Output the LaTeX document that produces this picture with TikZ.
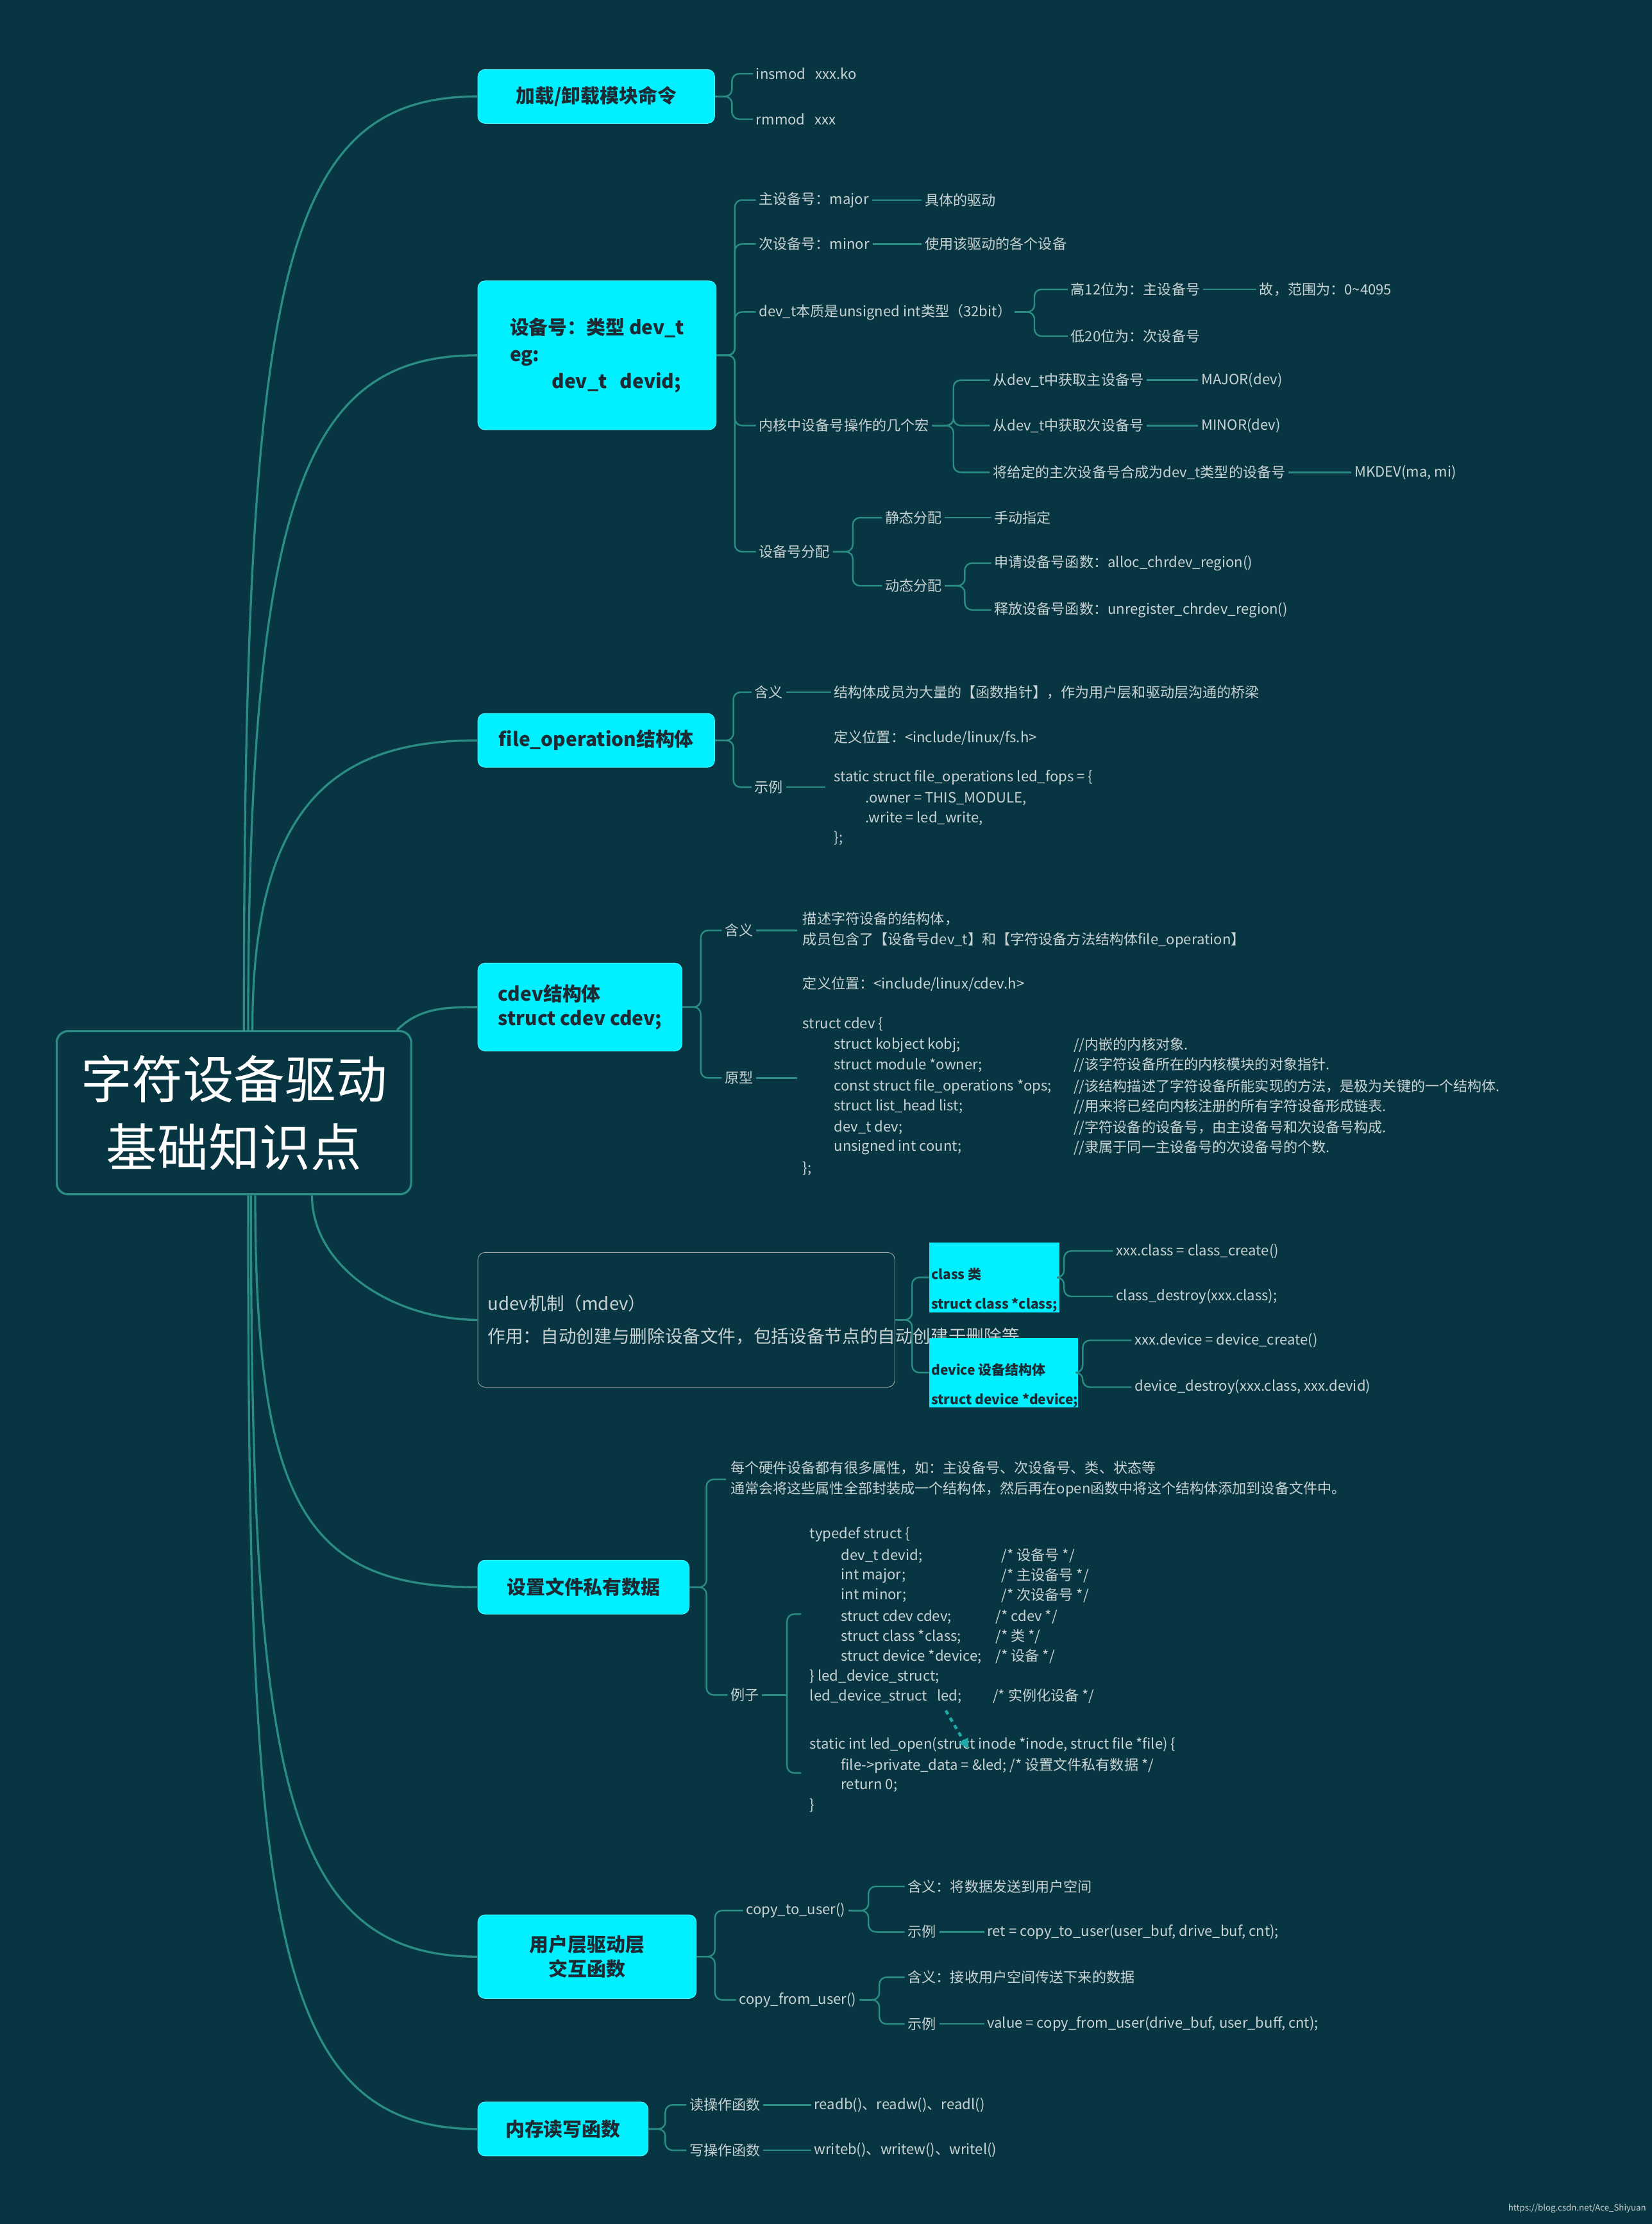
\documentclass[tikz,border=0pt]{standalone}
\usepackage{fontspec}
\setmainfont{Noto Sans CJK SC}
\usetikzlibrary{arrows.meta}
\definecolor{bgc}{HTML}{073642}
\definecolor{linec}{HTML}{2A8C84}
\definecolor{boxc}{HTML}{00F0FF}
\definecolor{txtc}{HTML}{C8D2D2}
\definecolor{darkc}{HTML}{1B2A33}
\tikzset{
  txt/.style={anchor=west, inner sep=2pt, text=txtc, font=\fontsize{10}{12}\selectfont},
  mainbox/.style={fill=boxc, draw=boxc!70!white, rounded corners=5pt, text=darkc, font=\fontsize{13.5}{17}\selectfont\bfseries, inner sep=0pt},
  smallbox/.style={fill=boxc, anchor=north west, text=darkc, font=\fontsize{9.5}{12}\selectfont\bfseries, inner sep=0pt, align=left},
  conn/.style={draw=linec, line width=1.1pt},
  branch/.style={draw=linec, line width=1.5pt}
}
\newcommand\fork[3]{\draw[conn, rounded corners=5pt] (#1.east) -- ++(#3,0) |- (#2.west);}
\newcommand\link[2]{\draw[conn] (#1.east) -- (#2.west);}
\begin{document}
\begin{tikzpicture}[x=1pt, y=-1pt]
  \fill[bgc] (0,0) rectangle (1165,1568);
  \useasboundingbox (0,0) rectangle (1165,1568);
  % root
  \node[draw=linec, line width=1.5pt, fill=bgc, rounded corners=8pt, minimum width=250pt, minimum height=115pt, text=white, align=center, font=\fontsize{36}{48}\selectfont] (root) at (165,784.5) {字符设备驱动\\基础知识点};
  % main topics
  \node[mainbox, minimum width=167pt, minimum height=38pt] (load) at (420.5,68) {加载/卸载模块命令};
  \node[mainbox, minimum width=168pt, minimum height=105pt, align=left, font=\fontsize{13.5}{19}\selectfont\bfseries] (devno) at (421,250.5) {设备号：类型 dev\_t\\eg:\\\hspace{2.2em}dev\_t\ \ \ devid;};
  \node[mainbox, minimum width=167pt, minimum height=38pt] (fops) at (420.5,522) {file\_operation结构体};
  \node[mainbox, minimum width=144pt, minimum height=62pt, align=left] (cdev) at (409,710) {cdev结构体\\struct cdev cdev;};
  \node[draw=txtc!80!black, fill=bgc, rounded corners=5pt, minimum width=294pt, minimum height=95pt, text width=280pt, align=left, text=txtc, font=\fontsize{12.5}{17}\selectfont] (udev) at (484,930.5) {udev机制（mdev）\\[6pt]作用：自动创建与删除设备文件，包括设备节点的自动创建于删除等};
  \node[mainbox, minimum width=149pt, minimum height=38pt] (priv) at (411.5,1119) {设置文件私有数据};
  \node[mainbox, minimum width=154pt, minimum height=59pt, align=center] (user) at (414,1379.5) {用户层驱动层\\交互函数};
  \node[mainbox, minimum width=120pt, minimum height=38pt] (mem) at (397,1501) {内存读写函数};
  % branches from root
  \draw[branch] ([xshift=7pt]root.north) .. controls +(0,-527) and +(-140,0) .. (load.west);
  \draw[branch] ([xshift=10pt]root.north) .. controls +(0,-380) and +(-120,0) .. (devno.west);
  \draw[branch] ([xshift=13pt]root.north) .. controls +(0,-160) and +(-100,0) .. (fops.west);
  \draw[branch] ([xshift=115pt]root.north) .. controls +(15,-15) and +(-25,0) .. (cdev.west);
  \draw[branch] ([xshift=55pt]root.south) .. controls +(0,50) and +(-60,0) .. (udev.west);
  \draw[branch] ([xshift=15pt]root.south) .. controls +(0,220) and +(-120,0) .. (priv.west);
  \draw[branch] ([xshift=12pt]root.south) .. controls +(0,400) and +(-140,0) .. (user.west);
  \draw[branch] ([xshift=10pt]root.south) .. controls +(0,500) and +(-150,0) .. (mem.west);
  % load / unload
  \node[txt] (ins) at (531,52) {insmod\ \ \ xxx.ko};
  \node[txt] (rm) at (531,84) {rmmod\ \ \ xxx};
  \fork{load}{ins}{12} \fork{load}{rm}{12}
  % device number
  \node[txt] (major) at (533,141) {主设备号：major};
  \node[txt] (majorv) at (650,141) {具体的驱动};
  \node[txt] (minor) at (533,172) {次设备号：minor};
  \node[txt] (minorv) at (650,172) {使用该驱动的各个设备};
  \node[txt] (devt) at (533,220) {dev\_t本质是unsigned int类型（32bit）};
  \node[txt] (hi) at (753,204) {高12位为：主设备号};
  \node[txt] (hiv) at (886,204) {故，范围为：0\textasciitilde4095};
  \node[txt] (lo) at (753,237) {低20位为：次设备号};
  \node[txt] (macro) at (533,300) {内核中设备号操作的几个宏};
  \node[txt] (getma) at (698,268) {从dev\_t中获取主设备号};
  \node[txt] (getmav) at (845,268) {MAJOR(dev)};
  \node[txt] (getmi) at (698,300) {从dev\_t中获取次设备号};
  \node[txt] (getmiv) at (845,300) {MINOR(dev)};
  \node[txt] (mk) at (698,333) {将给定的主次设备号合成为dev\_t类型的设备号};
  \node[txt] (mkv) at (953,333) {MKDEV(ma, mi)};
  \node[txt] (alloc) at (533,389) {设备号分配};
  \node[txt] (stat) at (622,365) {静态分配};
  \node[txt] (statv) at (699,365) {手动指定};
  \node[txt] (dyn) at (622,413) {动态分配};
  \node[txt] (req) at (699,397) {申请设备号函数：alloc\_chrdev\_region()};
  \node[txt] (rel) at (699,430) {释放设备号函数：unregister\_chrdev\_region()};
  \foreach \c in {major,minor,devt,macro,alloc} {\fork{devno}{\c}{13}}
  \link{major}{majorv} \link{minor}{minorv}
  \fork{devt}{hi}{14} \fork{devt}{lo}{14} \link{hi}{hiv}
  \foreach \c in {getma,getmi,mk} {\fork{macro}{\c}{15}}
  \link{getma}{getmav} \link{getmi}{getmiv} \link{mk}{mkv}
  \fork{alloc}{stat}{14} \fork{alloc}{dyn}{14} \link{stat}{statv}
  \fork{dyn}{req}{14} \fork{dyn}{rel}{14}
  % file_operation
  \node[txt] (fmean) at (530,488) {含义};
  \node[txt] (fmeanv) at (586,488) {结构体成员为大量的【函数指针】，作为用户层和驱动层沟通的桥梁};
  \node[txt] (fex) at (530,555) {示例};
  \coordinate (fexv) at (582,555);
  \node[txt] (f1) at (586,520) {定义位置：<include/linux/fs.h>};
  \node[txt] (f2) at (586,548) {static struct file\_operations led\_fops = \{};
  \node[txt] (f3) at (608,563) {.owner = THIS\_MODULE,};
  \node[txt] (f4) at (608,577) {.write = led\_write,};
  \node[txt] (f5) at (586,591) {\};};
  \fork{fops}{fmean}{13} \fork{fops}{fex}{13}
  \link{fmean}{fmeanv} \draw[conn] (fex.east) -- (fexv);
  % cdev
  \node[txt] (cmean) at (509,656) {含义};
  \coordinate (cmeanv) at (562,656);
  \node[txt] (c1) at (564,648) {描述字符设备的结构体，};
  \node[txt] (c2) at (564,663) {成员包含了【设备号dev\_t】和【字符设备方法结构体file\_operation】};
  \node[txt] (c3) at (564,694) {定义位置：<include/linux/cdev.h>};
  \node[txt] (cproto) at (509,760) {原型};
  \coordinate (cprotov) at (562,760);
  \node[txt] (c4) at (564,722) {struct cdev \{};
  \node[txt] (c11) at (564,824) {\};};
  \foreach \y/\a/\b [count=\i] in {
      737/{struct kobject kobj;}/{//内嵌的内核对象.},
      751/{struct module *owner;}/{//该字符设备所在的内核模块的对象指针.},
      766/{const struct file\_operations *ops;}/{//该结构描述了字符设备所能实现的方法，是极为关键的一个结构体.},
      780/{struct list\_head list;}/{//用来将已经向内核注册的所有字符设备形成链表.},
      795/{dev\_t dev;}/{//字符设备的设备号，由主设备号和次设备号构成.},
      809/{unsigned int count;}/{//隶属于同一主设备号的次设备号的个数.}}
    {\node[txt] (cf-\i) at (586,\y) {\a}; \node[txt] (cc-\i) at (755,\y) {\b};}
  \fork{cdev}{cmean}{13} \fork{cdev}{cproto}{13}
  \draw[conn] (cmean.east) -- (cmeanv); \draw[conn] (cproto.east) -- (cprotov);
  % udev
  \node[smallbox] (cls) at (655,876) {\rule[-12pt]{0pt}{38pt}\,class 类\\\,struct class *class;\,};
  \node[smallbox] (dev) at (655,943) {\rule[-12pt]{0pt}{38pt}\,device 设备结构体\\\,struct device *device;};
  \node[txt] (ccr) at (785,882) {xxx.class = class\_create()};
  \node[txt] (cde) at (785,914) {class\_destroy(xxx.class);};
  \node[txt] (dcr) at (798,945) {xxx.device = device\_create()};
  \node[txt] (dde) at (798,978) {device\_destroy(xxx.class, xxx.devid)};
  \fork{udev}{cls}{12} \fork{udev}{dev}{12}
  \fork{cls}{ccr}{3} \fork{cls}{cde}{3} \fork{dev}{dcr}{3} \fork{dev}{dde}{3}
  % private data
  \coordinate (pintro) at (512,1043);
  \node[txt] (p1) at (513,1035) {每个硬件设备都有很多属性，如：主设备号、次设备号、类、状态等};
  \node[txt] (p2) at (513,1050) {通常会将这些属性全部封装成一个结构体，然后再在open函数中将这个结构体添加到设备文件中。};
  \node[txt] (pex) at (513,1195) {例子};
  \draw[conn, rounded corners=5pt] (priv.east) -- ++(12,0) |- (pintro);
  \fork{priv}{pex}{12}
  \coordinate (pbr) at (555,1195);
  \draw[conn] (pex.east) -- (pbr);
  \draw[conn, rounded corners=5pt] (565,1138) -| (pbr) |- (565,1250);
  \node[txt] (s0) at (569,1082) {typedef struct \{};
  \foreach \y/\a/\b [count=\i] in {
      1097/{dev\_t devid;}/{/* 设备号 */},
      1111/{int major;}/{/* 主设备号 */},
      1125/{int minor;}/{/* 次设备号 */},
      1140/{struct cdev cdev;}/{/* cdev */},
      1154/{struct class *class;}/{/* 类 */},
      1168/{struct device *device;}/{/* 设备 */}}
    {\node[txt] (sf-\i) at (591,\y) {\a}; \node[txt] (sc-\i) at (\ifnum\i>3 700\else 704\fi,\y) {\b};}
  \node[txt] (s7) at (569,1182) {\} led\_device\_struct;};
  \node[txt] (s8) at (569,1196) {led\_device\_struct\ \ \ led;\hspace{2.2em}/* 实例化设备 */};
  \node[txt] (s9) at (569,1230) {static int led\_open(struct inode *inode, struct file *file) \{};
  \node[txt] (s10) at (591,1245) {file->private\_data = \&led; /* 设置文件私有数据 */};
  \node[txt] (s11) at (591,1259) {return 0;};
  \node[txt] (s12) at (569,1273) {\}};
  \draw[draw=linec!70!boxc, line width=2pt, dashed, -{Triangle[length=7pt,width=7pt]}] (s8.east) ++(-107,10) coordinate (ds) -- ++(16,27);
  % user / kernel
  \node[txt] (ctu) at (524,1347) {copy\_to\_user()};
  \node[txt] (cfu) at (519,1410) {copy\_from\_user()};
  \node[txt] (tmean) at (638,1330) {含义：将数据发送到用户空间};
  \node[txt] (tex) at (638,1362) {示例};
  \node[txt] (texv) at (694,1362) {ret = copy\_to\_user(user\_buf, drive\_buf, cnt);};
  \node[txt] (umean) at (638,1394) {含义：接收用户空间传送下来的数据};
  \node[txt] (uex) at (638,1427) {示例};
  \node[txt] (uexv) at (694,1427) {value = copy\_from\_user(drive\_buf, user\_buff, cnt);};
  \fork{user}{ctu}{13} \fork{user}{cfu}{13}
  \fork{ctu}{tmean}{14} \fork{ctu}{tex}{14} \fork{cfu}{umean}{14} \fork{cfu}{uex}{14}
  \link{tex}{texv} \link{uex}{uexv}
  % memory
  \node[txt] (rd) at (484,1484) {读操作函数};
  \node[txt] (rdv) at (572,1484) {readb()、readw()、readl()};
  \node[txt] (wr) at (484,1516) {写操作函数};
  \node[txt] (wrv) at (572,1516) {writeb()、writew()、writel()};
  \fork{mem}{rd}{12} \fork{mem}{wr}{12}
  \link{rd}{rdv} \link{wr}{wrv}
  \node[anchor=east, text=txtc, font=\fontsize{6}{7}\selectfont, inner sep=0pt] (mark) at (1161,1557) {https://blog.csdn.net/Ace\_Shiyuan};
\end{tikzpicture}
\end{document}
